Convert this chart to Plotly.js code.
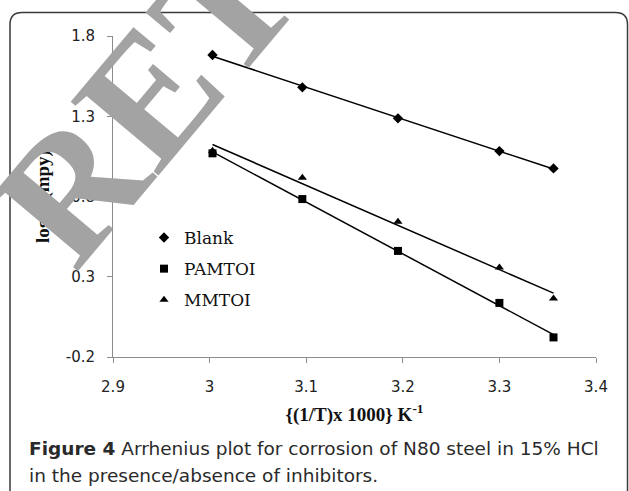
<!DOCTYPE html>
<html>
<head>
<meta charset="utf-8">
<script src="https://cdn.plot.ly/plotly-3.0.1.min.js"></script>
<style>
    html, body { margin: 0; padding: 0; background: #fff; }
    #plot { width: 629px; height: 491px; }
</style>
</head>
<body>
<div id="plot"></div>
<script>
// (1/T) x 1000, one value per temperature
const invTemp = [3.003, 3.096, 3.195, 3.300, 3.356];

// log k (mpy)
const blank = [1.682, 1.480, 1.287, 1.083, 0.975];
const pamtoi = [1.069, 0.784, 0.461, 0.137, -0.078];
const mmtoi = [1.085, 0.917, 0.642, 0.358, 0.165];

const seriesNames = ['Blank', 'PAMTOI', 'MMTOI'];

const xTicks = [2.9, 3.0, 3.1, 3.2, 3.3, 3.4];
const xTickText = ['2.9', '3', '3.1', '3.2', '3.3', '3.4'];
const yTicks = [-0.2, 0.3, 0.8, 1.3, 1.8];
const yTickText = ['-0.2', '0.3', '0.8', '1.3', '1.8'];

const captionBold = 'Figure 4';
const captionLine1 = 'Arrhenius plot for corrosion of N80 steel in 15% HCl';
const captionLine2 = 'in the presence/absence of inhibitors.';
const watermark = 'RETRACTED';

(function (document, window) {

    const W = 629, H = 491;
    const margin = { l: 113, r: 33, t: 36, b: 134 };
    const plotW = W - margin.l - margin.r;
    const plotH = H - margin.t - margin.b;

    // pixel -> paper
    function px(x) { return (x - margin.l) / plotW; }
    function py(y) { return (H - margin.b - y) / plotH; }

    // least squares line, like the excel trendline
    function trend(xs, ys) {
        var n = xs.length, sx = 0, sy = 0, sxx = 0, sxy = 0;
        for (var i = 0; i < n; i++) {
            sx += xs[i]; sy += ys[i];
            sxx += xs[i] * xs[i]; sxy += xs[i] * ys[i];
        }
        var m = (n * sxy - sx * sy) / (n * sxx - sx * sx);
        var b = (sy - m * sx) / n;
        var x0 = Math.min.apply(null, xs), x1 = Math.max.apply(null, xs);
        return { x: [x0, x1], y: [m * x0 + b, m * x1 + b] };
    }

    function roundedFrame(x0, y0, x1, y1, r) {
        return 'M' + px(x0) + ',' + py(y1) +
            ' L' + px(x0) + ',' + py(y0 + r) +
            ' Q' + px(x0) + ',' + py(y0) + ' ' + px(x0 + r) + ',' + py(y0) +
            ' L' + px(x1 - r) + ',' + py(y0) +
            ' Q' + px(x1) + ',' + py(y0) + ' ' + px(x1) + ',' + py(y0 + r) +
            ' L' + px(x1) + ',' + py(y1);
    }

    document.addEventListener("DOMContentLoaded", function () {

        var allY = [blank, pamtoi, mmtoi];
        var symbols = ['diamond', 'square', 'triangle-up'];
        var sizes = [8, 8, 8];

        var traces = [];

        // trendlines first so markers sit on top
        allY.forEach(function (ys) {
            var t = trend(invTemp, ys);
            traces.push({
                x: t.x, y: t.y, type: 'scatter', mode: 'lines',
                line: { color: '#000', width: 1.5 },
                showlegend: false, hoverinfo: 'skip'
            });
        });

        allY.forEach(function (ys, i) {
            traces.push({
                x: invTemp, y: ys, type: 'scatter', mode: 'markers',
                name: seriesNames[i], legendgroup: seriesNames[i],
                marker: { symbol: symbols[i], size: sizes[i], color: '#000' }
            });
        });

        var axisCommon = {
            showgrid: false, zeroline: false, showline: true,
            linecolor: '#8c8c8c', linewidth: 1,
            ticks: 'outside', ticklen: 5, tickcolor: '#8c8c8c', tickwidth: 1,
            tickfont: { family: 'DejaVu Sans', size: 15, color: '#222' },
            fixedrange: true
        };

        var titleFont = { family: 'Liberation Serif', size: 19, color: '#111', weight: 'bold' };

        var layout = {
            width: W, height: H,
            margin: margin,
            paper_bgcolor: '#fff', plot_bgcolor: '#fff',
            showlegend: true,
            legend: {
                x: px(144), y: py(220), xanchor: 'left', yanchor: 'top',
                traceorder: 'grouped', tracegroupgap: 6,
                bgcolor: 'rgba(0,0,0,0)',
                font: { family: 'DejaVu Serif', size: 17, color: '#111' }
            },
            xaxis: Object.assign({}, axisCommon, {
                range: [2.9, 3.4], ticklabelstandoff: 11,
                tickmode: 'array', tickvals: xTicks, ticktext: xTickText,
                title: { text: '{(1/T)x 1000} K<sup>-1</sup>', standoff: 12, font: titleFont }
            }),
            yaxis: Object.assign({}, axisCommon, {
                range: [-0.2, 1.8], ticklabelstandoff: 9,
                tickmode: 'array', tickvals: yTicks, ticktext: yTickText,
                title: { text: 'log k (mpy)', standoff: 11, font: titleFont }
            }),
            shapes: [{
                type: 'path', xref: 'paper', yref: 'paper', layer: 'below',
                path: roundedFrame(10, 12.5, 627.5, 500, 12),
                line: { color: '#3a3a3a', width: 1.5 }
            }],
            annotations: [
                {
                    xref: 'paper', yref: 'paper', x: px(27), y: py(448),
                    xanchor: 'left', yanchor: 'middle', showarrow: false,
                    text: '<b>' + captionBold + '</b> ' + captionLine1,
                    font: { family: 'DejaVu Sans', size: 18.5, color: '#2a2a2a' }
                },
                {
                    xref: 'paper', yref: 'paper', x: px(27), y: py(475),
                    xanchor: 'left', yanchor: 'middle', showarrow: false,
                    text: captionLine2,
                    font: { family: 'DejaVu Sans', size: 18.5, color: '#2a2a2a' }
                },
                {
                    // watermark over the whole figure
                    xref: 'paper', yref: 'paper', x: px(383), y: py(-184),
                    xanchor: 'center', yanchor: 'middle', showarrow: false,
                    text: '<b>' + watermark + '</b>', textangle: -50,
                    font: { family: 'Liberation Serif', size: 175, color: '#a3a3a3' }
                }
            ]
        };

        Plotly.newPlot('plot', traces, layout, { staticPlot: true, displayModeBar: false });
    });

})(document, window);
</script>
</body>
</html>
